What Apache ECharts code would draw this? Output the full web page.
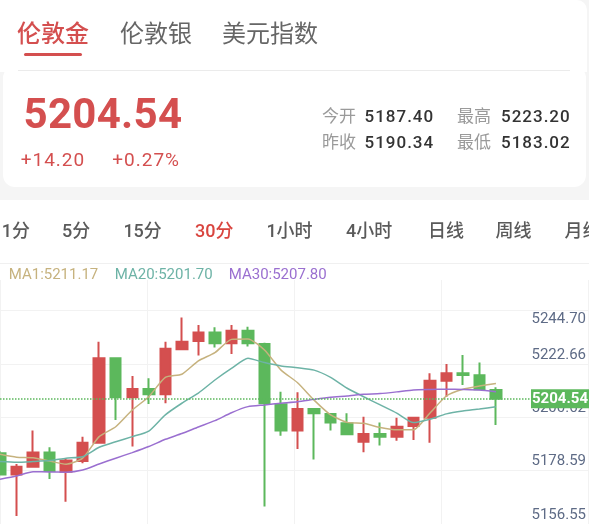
<!DOCTYPE html>
<html>
<head>
<meta charset="utf-8">
<script src="https://cdn.jsdelivr.net/npm/echarts@6/dist/echarts.min.js"></script>
<style>
html, body { margin: 0; padding: 0; }
body { width: 589px; height: 524px; overflow: hidden; position: relative; background: #f5f5f5;
       font-family: Roboto, "Noto Sans CJK SC", sans-serif; }
.abs { position: absolute; white-space: nowrap; line-height: 1; }
#card1 { position: absolute; left: -10px; top: 0; width: 597px; height: 72px; background: #fff; border-radius: 0 10px 0 0; }
#card2 { position: absolute; left: 3px; top: 66px; width: 583px; height: 121px; background: #fff; border-radius: 12px; }
#sep { position: absolute; left: 18px; top: 70px; width: 552px; height: 1px; background: #ebebeb; }
#lower { position: absolute; left: 0; top: 200px; width: 589px; height: 324px; background: #fff; }
#sep2 { position: absolute; left: 0; top: 263px; width: 589px; height: 1px; background: #f0f0f0; }
#chart { position: absolute; left: 0; top: 0; width: 589px; height: 524px; }
.tab { font-size: 24px; color: #666; top: 22px; }
.tab.on { color: #d44f4f; font-weight: 500; }
#uline { position: absolute; left: 24px; top: 53px; width: 58px; height: 3px; border-radius: 2px; background: #d44f4f; }
#price { left: 23.5px; top: 92.8px; font-size: 42px; font-weight: bold; color: #d44f4f; letter-spacing: 0.3px; }
.chg { top: 150px; font-size: 19px; color: #d44f4f; letter-spacing: 1px; }
.st { font-size: 17px; color: #9a9a9a; }
.sv { font-size: 17px; color: #333; font-weight: 500; letter-spacing: 1px; }
.tf { top: 222px; font-size: 18px; color: #5a5a5a; font-weight: 500; }
.tf.on { color: #d9453f; }
.ma { top: 266.7px; font-size: 15px; }
</style>
</head>
<body>
<div id="card1"></div>
<div id="card2"></div>
<div id="sep"></div>
<div id="lower"></div>
<div id="sep2"></div>
<div id="chart"></div>

<div class="abs tab on" style="left:17px">伦敦金</div>
<div class="abs tab" style="left:120px">伦敦银</div>
<div class="abs tab" style="left:222px">美元指数</div>
<div id="uline"></div>

<div id="price" class="abs"></div>
<div id="chg1" class="abs chg" style="left:20.7px"></div>
<div id="chg2" class="abs chg" style="left:112.3px"></div>
<div id="stats"></div>
<div id="tfs"></div>
<div id="legend"></div>

<script>
// 报价头部
var lastPrice = 5204.54;
var changeText = ['+14.20', '+0.27%'];
var statNames = ['今开', '最高', '昨收', '最低'];
var statValues = ['5187.40', '5223.20', '5190.34', '5183.02'];

// 周期
var periods = ['1分', '5分', '15分', '30分', '1小时', '4小时', '日线', '周线', '月线'];
var periodLeft = [1.7, 62, 123.4, 195, 266.4, 346, 428, 495.5, 564.5];
var activePeriod = 3;

// 均线图例
var maNames = ['MA1', 'MA20', 'MA30'];
var maLegend = ['5211.17', '5201.70', '5207.80'];
var maColors = ['#c6b27e', '#6db3a6', '#9a6fd0'];

// K线 (30分)
var opens  = [5182.0, 5173.3, 5176.5, 5182.3, 5174.4, 5178.8, 5186.4, 5221.3, 5205.2, 5208.6, 5206.4,
              5225.0, 5228.4, 5231.9, 5227.5, 5232.7, 5227.2, 5202.3, 5191.4, 5200.3, 5198.3,
              5194.4, 5186.8, 5190.0, 5188.9, 5193.3, 5196.7, 5212.0, 5215.1, 5214.3, 5208.2];
var closes = [5173.3, 5176.5, 5182.3, 5174.7, 5179.0, 5186.4, 5221.3, 5205.2, 5208.6, 5206.4, 5225.2,
              5228.1, 5231.9, 5227.5, 5232.7, 5227.5, 5202.7, 5191.4, 5200.3, 5198.6, 5194.7,
              5189.9, 5190.0, 5188.9, 5193.0, 5196.7, 5212.0, 5215.1, 5214.4, 5208.5, 5204.54];
var highs  = [5183.0, 5177.6, 5191.4, 5184.5, 5179.7, 5188.9, 5228.1, 5221.7, 5214.0, 5213.0, 5228.1,
              5238.1, 5235.0, 5234.1, 5235.0, 5234.3, 5227.7, 5207.5, 5207.2, 5200.3, 5198.6,
              5198.6, 5197.1, 5194.7, 5196.7, 5197.1, 5215.1, 5218.9, 5222.6, 5219.5, 5209.3];
var lows   = [5172.8, 5156.1, 5176.1, 5171.4, 5162.0, 5177.9, 5186.0, 5195.8, 5184.8, 5202.4, 5202.7,
              5224.7, 5222.4, 5225.7, 5223.1, 5226.1, 5160.0, 5189.3, 5183.8, 5179.5, 5191.4,
              5189.9, 5182.4, 5185.2, 5187.2, 5187.5, 5186.4, 5205.4, 5210.2, 5208.5, 5193.7];

var ma1  = [5181.6, 5180.4, 5180.2, 5178.8, 5177.5, 5180.0, 5188.9, 5193.0, 5199.9, 5205.4, 5213.4,
            5214.7, 5220.2, 5223.6, 5229.1, 5229.3, 5224.7, 5216.4, 5211.2, 5204.0, 5197.9,
            5194.8, 5194.4, 5192.7, 5191.7, 5191.7, 5198.6, 5205.7, 5208.5, 5209.8, 5210.9];
var ma20 = [5178.6, 5178.3, 5178.6, 5179.0, 5180.0, 5180.6, 5184.5, 5186.8, 5188.9, 5191.2, 5197.9,
            5202.7, 5206.9, 5212.3, 5217.1, 5221.3, 5219.5, 5218.1, 5217.4, 5216.4, 5213.4,
            5208.9, 5205.4, 5202.0, 5198.6, 5194.7, 5196.1, 5198.3, 5199.5, 5200.3, 5201.3];
var ma30 = [5171.3, 5172.6, 5174.4, 5174.3, 5174.2, 5175.1, 5177.6, 5180.0, 5182.3, 5184.8, 5187.8,
            5190.2, 5192.9, 5195.5, 5198.8, 5201.3, 5202.0, 5202.7, 5203.3, 5204.3, 5205.2,
            5205.7, 5206.4, 5206.7, 5207.4, 5208.2, 5208.4, 5208.5, 5208.4, 5208.2, 5207.5];

// 右侧刻度
var yTicks = [5156.55, 5178.59, 5200.62, 5222.66, 5244.70];

var RED = '#d44f4f';
var GREEN = '#5cb85c';

// ---- 头部文字
document.getElementById('price').textContent = lastPrice.toFixed(2);
document.getElementById('chg1').textContent = changeText[0];
document.getElementById('chg2').textContent = changeText[1];

var statPos = [[322, 108], [457, 108], [322, 134], [457, 134]];
var valLeft = [364.5, 501, 364.5, 501];
var html = '';
for (var i = 0; i < statNames.length; i++) {
    html += '<div class="abs st" style="left:' + statPos[i][0] + 'px;top:' + statPos[i][1] + 'px">' + statNames[i] + '</div>';
    html += '<div class="abs sv" style="left:' + valLeft[i] + 'px;top:' + statPos[i][1] + 'px">' + statValues[i] + '</div>';
}
document.getElementById('stats').innerHTML = html;

html = '';
for (var i = 0; i < periods.length; i++) {
    html += '<div class="abs tf' + (i === activePeriod ? ' on' : '') + '" style="left:' + periodLeft[i] + 'px">' + periods[i] + '</div>';
}
document.getElementById('tfs').innerHTML = html;

var maLeft = [8.7, 114.7, 228.7];
html = '';
for (var i = 0; i < maNames.length; i++) {
    html += '<div class="abs ma" style="left:' + maLeft[i] + 'px;color:' + maColors[i] + '">' + maNames[i] + ':' + maLegend[i] + '</div>';
}
document.getElementById('legend').innerHTML = html;

// ---- 图表
var slots = [];
for (var i = 0; i < 36; i++) slots.push(String(i));

var candles = [];
for (var i = 0; i < opens.length; i++) {
    candles.push([opens[i], closes[i], lows[i], highs[i]]);
}

var yMin = 5152.8;      // 底部 y=524
var yMax = 5249.5;      // K线区 top=290
var yMaxLabel = 5253.63; // 刻度区 top=280

var myChart = echarts.init(document.getElementById('chart'));

function maLine(data, color) {
    return {
        type: 'line',
        xAxisIndex: 0,
        yAxisIndex: 0,
        data: data,
        showSymbol: false,
        smooth: 0.2,
        silent: true,
        lineStyle: { width: 1.5, color: color },
        z: 3
    };
}

var option = {
    animation: false,
    grid: [
        { left: 0, right: 10.4, top: 290, bottom: 0 },
        { left: 0, right: 0, top: 280, bottom: 0 },
        { left: 0, right: 0, top: 310.7, bottom: 0 }
    ],
    xAxis: [
        { type: 'category', gridIndex: 0, data: slots, boundaryGap: false, show: false },
        {
            type: 'value', gridIndex: 1, min: 0, max: 4, interval: 1,
            axisLine: { show: false }, axisTick: { show: false }, axisLabel: { show: false },
            splitLine: { show: true, lineStyle: { color: '#f2f2f2', width: 1 } }
        },
        { type: 'value', gridIndex: 2, min: 0, max: 1, show: false }
    ],
    yAxis: [
        { type: 'value', gridIndex: 0, min: yMin, max: yMax, show: false },
        {
            type: 'value', gridIndex: 1, min: yMin, max: yMaxLabel, position: 'right',
            axisLine: { show: false },
            axisTick: { show: false, customValues: yTicks },
            splitLine: { show: false },
            axisLabel: {
                inside: true,
                margin: 2,
                customValues: yTicks,
                color: '#5e6b86',
                fontSize: 15,
                fontFamily: 'Roboto',
                formatter: function (v) {
                    var s = v.toFixed(2);
                    // 顶部刻度文字放在线下方
                    if (Math.abs(v - yTicks[yTicks.length - 1]) < 0.001) return '{top|' + s + '}';
                    return s;
                },
                rich: { top: { padding: [36, 0, 0, 0] } }
            }
        },
        {
            type: 'value', gridIndex: 2, min: 0, max: 4, interval: 1,
            axisLine: { show: false }, axisTick: { show: false }, axisLabel: { show: false },
            splitLine: { show: true, lineStyle: { color: '#f2f2f2', width: 1 } }
        }
    ],
    series: [
        {
            type: 'candlestick',
            xAxisIndex: 0,
            yAxisIndex: 0,
            data: candles,
            barWidth: 11,
            silent: true,
            itemStyle: {
                color: RED, color0: GREEN,
                borderColor: RED, borderColor0: GREEN,
                borderWidth: 2
            },
            markLine: {
                silent: true,
                symbol: ['none', 'none'],
                data: [{ yAxis: lastPrice }],
                lineStyle: { color: GREEN, type: 'dotted', width: 1.5 },
                label: {
                    position: 'insideEnd',
                    distance: [-10.4, 0],
                    formatter: function () { return lastPrice.toFixed(2); },
                    color: '#fff',
                    fontSize: 15,
                    fontWeight: 'bold',
                    fontFamily: 'Roboto',
                    backgroundColor: GREEN,
                    padding: [2, 1, 1, 1],
                    lineHeight: 16
                },
                z: 5
            }
        },
        maLine(ma1, maColors[0]),
        maLine(ma20, maColors[1]),
        maLine(ma30, maColors[2])
    ]
};
myChart.setOption(option);
</script>
</body>
</html>
